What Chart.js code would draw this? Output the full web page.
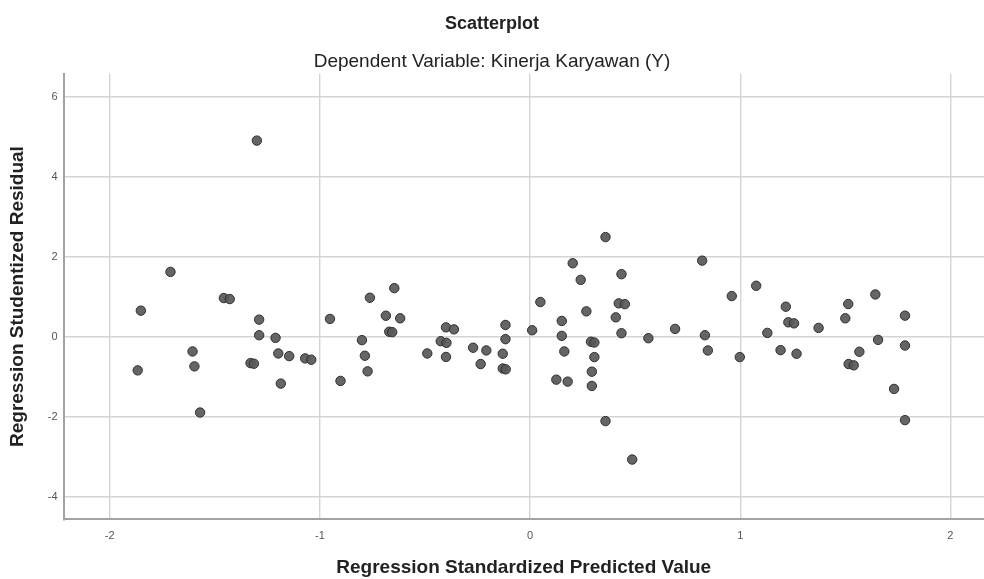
<!DOCTYPE html>
<html>
<head>
<meta charset="utf-8">
<script src="https://cdn.jsdelivr.net/npm/chart.js@4/dist/chart.umd.min.js"></script>
<style>
  html, body { margin: 0; padding: 0; background: #fff; }
  #wrap { width: 984px; height: 579px; }
</style>
</head>
<body>
<div id="wrap"><canvas id="scatter"></canvas></div>
<script>
// standardized predicted value (x) and studentized residual (y)
var predicted = [
  -1.711, -1.852, -1.867, -1.606, -1.597, -1.570, -1.457, -1.429, -1.289, -1.289,
  -1.330, -1.314, -1.211, -1.198, -1.146, -1.186, -1.070, -1.041, -0.952, -0.902,
  -0.800, -0.786, -0.773, -0.762, -0.686, -0.670, -0.656, -0.646, -0.618, -1.300,
  -0.400, -0.362, -0.425, -0.398, -0.489, -0.400, -0.271, -0.208, -0.235, -0.117,
  -0.117, -0.130, -0.130, -0.116, 0.010, 0.049, 0.151, 0.151, 0.163, 0.125,
  0.179, 0.203, 0.241, 0.268, 0.290, 0.306, 0.306, 0.294, 0.294, 0.359,
  0.359, 0.486, 0.435, 0.422, 0.451, 0.408, 0.435, 0.563, 0.690, 0.819,
  0.832, 0.846, 0.960, 0.998, 1.076, 1.129, 1.192, 1.217, 1.229, 1.256,
  1.268, 1.373, 1.500, 1.514, 1.567, 1.516, 1.540, 1.643, 1.656, 1.732,
  1.784, 1.784, 1.784
];
var residual = [
  1.617, 0.647, -0.846, -0.373, -0.746, -1.900, 0.962, 0.937, 0.423, 0.033,
  -0.664, -0.680, -0.033, -0.423, -0.490, -1.177, -0.547, -0.580, 0.440, -1.110,
  -0.090, -0.480, -0.870, 0.970, 0.520, 0.120, 0.110, 1.210, 0.456, 4.900,
  0.230, 0.180, -0.117, -0.157, -0.423, -0.510, -0.280, -0.348, -0.688, 0.290,
  -0.066, -0.430, -0.800, -0.820, 0.157, 0.863, 0.390, 0.017, -0.373, -1.078,
  -1.127, 1.833, 1.418, 0.630, -0.130, -0.150, -0.514, -0.879, -1.235, 2.487,
  -2.114, -3.076, 1.559, 0.830, 0.810, 0.480, 0.083, -0.042, 0.190, 1.898,
  0.033, -0.348, 1.012, -0.514, 1.269, 0.091, -0.340, 0.746, 0.356, 0.330,
  -0.431, 0.216, 0.456, 0.813, -0.381, -0.688, -0.720, 1.053, -0.083, -1.310,
  0.522, -0.224, -2.090
];
var xTicks = [-2, -1, 0, 1, 2];
var yTicks = [-4, -2, 0, 2, 4, 6];

var points = [];
for (var i = 0; i < predicted.length; i++) {
  points.push({ x: predicted[i], y: residual[i] });
}

var gridColor = '#d4d4d4';
var axisColor = '#a3a3a3';
var fontFam = 'Liberation Sans, Arial';

new Chart('scatter', {
  type: 'scatter',
  data: {
    datasets: [{
      data: points,
      pointRadius: 4.7,
      pointHoverRadius: 4.7,
      backgroundColor: 'rgba(88,88,88,0.92)',
      borderColor: '#2f2f2f',
      borderWidth: 1
    }]
  },
  options: {
    responsive: true,
    maintainAspectRatio: false,
    animation: false,
    layout: { padding: 0, autoPadding: false },
    plugins: {
      legend: { display: false },
      tooltip: { enabled: false },
      title: {
        display: true,
        text: 'Scatterplot',
        color: '#222',
        font: { family: fontFam, size: 18, weight: 'bold' },
        padding: { top: 13, bottom: 6 }
      },
      subtitle: {
        display: true,
        text: 'Dependent Variable: Kinerja Karyawan (Y)',
        color: '#222',
        font: { family: fontFam, size: 19, weight: 'normal' },
        padding: { top: 9.8, bottom: 0.6 }
      }
    },
    scales: {
      x: {
        type: 'linear',
        min: -2.22,
        max: 2.16,
        afterBuildTicks: function (scale) {
          scale.ticks = xTicks.map(function (v) { return { value: v }; });
        },
        afterFit: function (scale) { scale.height = 59.7; },
        grid: { color: gridColor, lineWidth: 1.4, drawTicks: true, tickLength: 10, tickColor: 'rgba(0,0,0,0)' },
        border: { color: axisColor, width: 2 },
        ticks: { color: '#555', padding: 0, font: { family: fontFam, size: 11 } },
        title: {
          display: true,
          text: 'Regression Standardized Predicted Value',
          color: '#222',
          font: { family: fontFam, size: 19, weight: 'bold' },
          padding: { top: 0, bottom: 0 }
        }
      },
      y: {
        type: 'linear',
        min: -4.57,
        max: 6.57,
        afterBuildTicks: function (scale) {
          scale.ticks = yTicks.map(function (v) { return { value: v }; });
        },
        afterFit: function (scale) { scale.width = 63.5; },
        grid: { color: gridColor, lineWidth: 1.4, drawTicks: false },
        border: { color: axisColor, width: 2 },
        ticks: { color: '#555', padding: 6, font: { family: fontFam, size: 11 } },
        title: {
          display: true,
          text: 'Regression Studentized Residual',
          color: '#222',
          font: { family: fontFam, size: 19, weight: 'bold' },
          padding: { top: 6.6, bottom: 0 }
        }
      }
    }
  }
});
</script>
</body>
</html>
